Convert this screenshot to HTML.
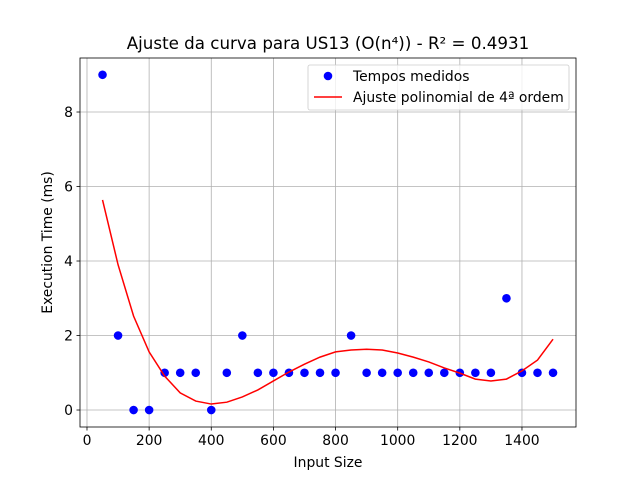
<!DOCTYPE html>
<html><head><meta charset="utf-8"><style>
body{margin:0;background:#fff}
svg{display:block;font-family:"DejaVu Sans","Liberation Sans",sans-serif}
</style></head><body>
<svg id="chart" width="640" height="480"></svg>
<script>
const xs=[50,100,150,200,250,300,350,400,450,500,550,600,650,700,750,800,850,900,950,1000,1050,1100,1150,1200,1250,1300,1350,1400,1450,1500];
const measured=[9,2,0,0,1,1,1,0,1,2,1,1,1,1,1,1,2,1,1,1,1,1,1,1,1,1,3,1,1,1];
const fitted=[5.64,3.9,2.52,1.56,0.91,0.46,0.24,0.16,0.21,0.35,0.54,0.78,1.02,1.23,1.42,1.56,1.61,1.63,1.61,1.53,1.42,1.29,1.13,0.99,0.83,0.78,0.83,1.05,1.34,1.9];
const xTicks=[0,200,400,600,800,1000,1200,1400];
const yTicks=[0,2,4,6,8];
const L=80,R=576,T=58,B=427;
const xMin=-22.5,xMax=1573.9,yMin=-0.456,yMax=9.45;
const sx=v=>L+(v-xMin)/(xMax-xMin)*(R-L);
const sy=v=>B-(v-yMin)/(yMax-yMin)*(B-T);
const svg=document.getElementById('chart');
const NS='http://www.w3.org/2000/svg';
function mk(tag,attrs,parent){const e=document.createElementNS(NS,tag);for(const k in attrs)e.setAttribute(k,attrs[k]);(parent||svg).appendChild(e);return e;}
xTicks.forEach(t=>{const x=sx(t);
 const g=mk('line',{x1:x,x2:x,y1:T,y2:B,stroke:'#b0b0b0','stroke-width':0.8});
 
 
 mk('line',{x1:x,x2:x,y1:B,y2:B+3.5,stroke:'#000','stroke-width':0.8});
 const tx=mk('text',{x:x,y:B+18,'font-size':13.9,'text-anchor':'middle'});tx.textContent=t;
 
 
});
yTicks.forEach(t=>{const y=sy(t);
 const g=mk('line',{x1:L,x2:R,y1:y,y2:y,stroke:'#b0b0b0','stroke-width':0.8});
 
 
 mk('line',{x1:L-3.5,x2:L,y1:y,y2:y,stroke:'#000','stroke-width':0.8});
 const tx=mk('text',{x:L-7,y:y+5,'font-size':13.9,'text-anchor':'end'});tx.textContent=t;
 
 
});
measured.forEach((v,i)=>{const c=mk('circle',{cx:sx(xs[i]),cy:sy(v),r:4.3,fill:'#0000ff'});
 
 
});
const pl=mk('polyline',{points:fitted.map((v,i)=>sx(xs[i])+','+sy(v)).join(' '),fill:'none',stroke:'#ff0000','stroke-width':1.5});


const fr=mk('rect',{x:L,y:T,width:R-L,height:B-T,fill:'none',stroke:'#000','stroke-width':0.8});


const ti=mk('text',{x:(L+R)/2,y:49,'font-size':16.7,'text-anchor':'middle'});ti.textContent='Ajuste da curva para US13 (O(n⁴)) - R² = 0.4931';


const xl=mk('text',{x:(L+R)/2,y:467,'font-size':13.9,'text-anchor':'middle'});xl.textContent='Input Size';


const yl=mk('text',{x:0,y:0,'font-size':13.9,'text-anchor':'middle',transform:`translate(52,${(T+B)/2}) rotate(-90)`});yl.textContent='Execution Time (ms)';


const lg=mk('g',{});


mk('rect',{x:308,y:65,width:261,height:45,rx:2,fill:'#fff','fill-opacity':0.8,stroke:'#cccccc','stroke-width':0.8},lg);
mk('circle',{cx:328,cy:76,r:4.3,fill:'#0000ff'},lg);
const t1=mk('text',{x:353,y:81,'font-size':13.9},lg);t1.textContent='Tempos medidos';
mk('line',{x1:314,x2:342,y1:97,y2:97,stroke:'#ff0000','stroke-width':1.5},lg);
const t2=mk('text',{x:353,y:102,'font-size':13.9},lg);t2.textContent='Ajuste polinomial de 4ª ordem';
</script>
</body></html>
